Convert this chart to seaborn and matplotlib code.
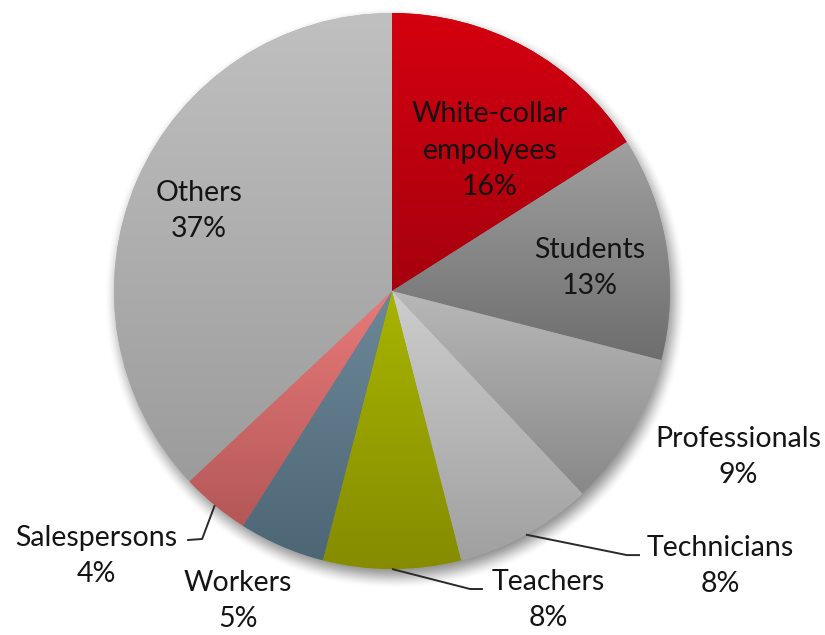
import numpy as np
import matplotlib
matplotlib.use("Agg")
import matplotlib.pyplot as plt
from matplotlib.colors import LinearSegmentedColormap
import seaborn as sns

# Occupation shares (percent), clockwise from 12 o'clock
categories = ["White-collar\nempolyees", "Students", "Professionals", "Technicians",
              "Teachers", "Workers", "Salespersons", "Others"]
shares = [16, 13, 9, 8, 8, 5, 4, 37]

# Gradient colours per slice (top, bottom)
top_colors = ["#d40010", "#a0a0a0", "#b8b8b8", "#cdcdcd",
              "#a8b400", "#6c8898", "#e87a7a", "#c0c0c0"]
bottom_colors = ["#a6000e", "#6e6e6e", "#888888", "#a0a0a0",
                 "#858c00", "#4d6676", "#b45757", "#9c9c9c"]

# Label anchors in pie units (centre = 0, radius = 1)
label_xy = {
    "White-collar\nempolyees": (0.353, 0.504),
    "Students": (0.712, 0.083),
    "Professionals": (1.245, -0.597),
    "Technicians": (1.180, -0.989),
    "Teachers": (0.561, -1.112),
    "Workers": (-0.554, -1.115),
    "Salespersons": (-1.065, -0.953),
    "Others": (-0.694, 0.288),
}
# Leader-line elbow and end points for the outside labels
leaders = {
    "Salespersons": [(-0.683, -0.892), (-0.737, -0.896)],
    "Technicians": [(0.845, -0.950), (0.892, -0.950)],
    "Teachers": [(0.281, -1.072), (0.327, -1.072)],
}

sns.set_theme(style="white")
plt.rcParams["font.family"] = ["Lato", "DejaVu Sans"]

W, H, DPI = 825, 635, 100
R_PX = 278.0
CX, CY = 392.0, 291.0

fig = plt.figure(figsize=(W / DPI, H / DPI), dpi=DPI)
ax = fig.add_axes([0, 0, 1, 1])
ax.set_axis_off()

# Soft drop shadow under the pie
gx = np.linspace(-1.5, 1.5, 600)
gy = np.linspace(-1.5, 1.5, 600)
XX, YY = np.meshgrid(gx, gy)
dist = np.hypot(XX - 0.012, YY + 0.025)
t = np.clip((dist - 0.96) / 0.09, 0, 1)
shadow_alpha = 0.45 * (1 - t * t * (3 - 2 * t))
shadow = np.zeros((600, 600, 4))
shadow[..., 3] = shadow_alpha
ax.imshow(shadow, extent=(-1.5, 1.5, -1.5, 1.5), origin="lower", zorder=0,
          interpolation="bilinear")

mid_colors = [sns.blend_palette([a, b], 3)[1] for a, b in zip(top_colors, bottom_colors)]
wedges, _ = ax.pie(shares, colors=mid_colors, startangle=90, counterclock=False,
                   radius=1.0, wedgeprops=dict(linewidth=0, edgecolor="none"))

for w, c_top, c_bot in zip(wedges, top_colors, bottom_colors):
    w.set_zorder(1)
    angs = np.radians(np.linspace(w.theta1, w.theta2, 200))
    ys = np.concatenate([np.sin(angs) * w.r, [0.0]])
    y0, y1 = ys.min(), ys.max()
    cmap = LinearSegmentedColormap.from_list("g", [c_bot, c_top])
    grad = np.linspace(0, 1, 256).reshape(-1, 1)
    im = ax.imshow(grad, cmap=cmap, extent=(-1, 1, y0, y1), origin="lower",
                   aspect="auto", zorder=2, interpolation="bilinear")
    im.set_clip_path(w)

text_kw = dict(ha="center", va="center", fontsize=20.5, color="#141414",
               linespacing=1.5, zorder=5)
for w, cat, val in zip(wedges, categories, shares):
    x, y = label_xy[cat]
    ax.text(x, y, f"{cat}\n{val}%", **text_kw)
    if cat in leaders:
        mid = np.radians((w.theta1 + w.theta2) / 2)
        start = (np.cos(mid) * 1.0, np.sin(mid) * 1.0)
        pts = [start] + leaders[cat]
        ax.plot([p[0] for p in pts], [p[1] for p in pts], color="#2a2a2a",
                lw=1.4, zorder=4, solid_capstyle="butt")

ax.set_aspect("auto")
ax.set_xlim(-CX / R_PX, (W - CX) / R_PX)
ax.set_ylim(-(H - CY) / R_PX, CY / R_PX)

fig.savefig("out.png", dpi=DPI, facecolor="white")
